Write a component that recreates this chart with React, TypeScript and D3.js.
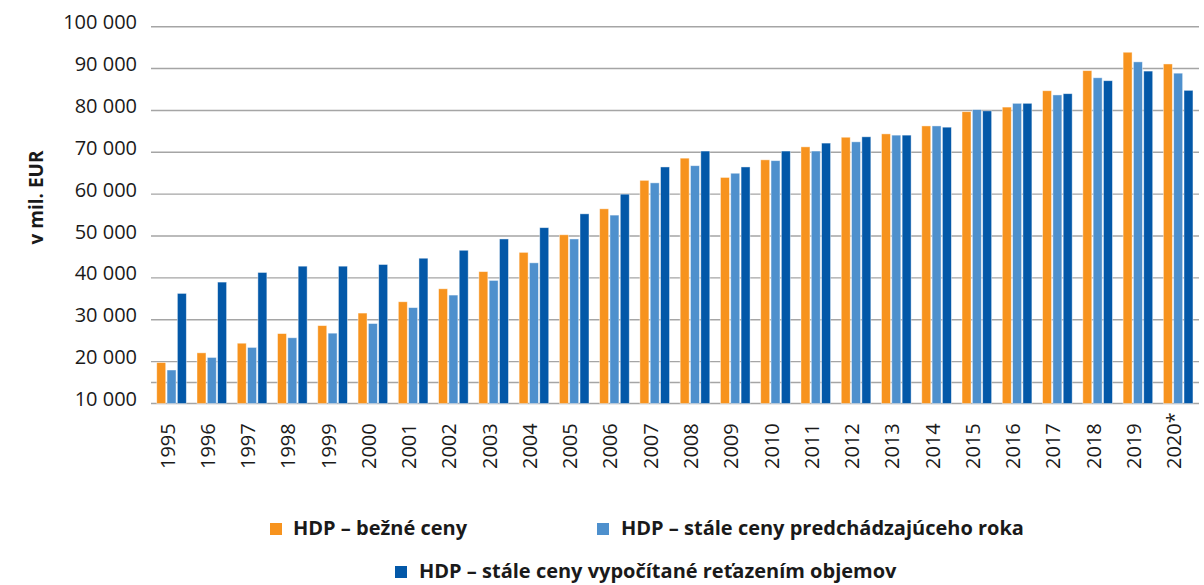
import React from "react";
import * as d3 from "d3";

const years = ["1995","1996","1997","1998","1999","2000","2001","2002","2003","2004","2005","2006","2007","2008","2009","2010","2011","2012","2013","2014","2015","2016","2017","2018","2019","2020*"];
const bezneCeny = [19800,22100,24400,26700,28600,31600,34300,37400,41500,46100,50300,56500,63300,68600,64000,68200,71300,73600,74400,76300,79700,80800,84700,89500,93900,91100];
const staleCenyPredRoka = [18000,21000,23400,25700,26800,29100,32900,35900,39400,43600,49300,55000,62700,66800,65000,68000,70300,72500,74100,76300,80200,81700,83700,87800,91600,88900];
const staleCenyRetazenim = [36300,39000,41300,42800,42800,43200,44700,46600,49300,52000,55300,60000,66500,70300,66500,70300,72200,73700,74100,76000,79900,81700,84000,87100,89400,84800];
const seriesNames = ["HDP – bežné ceny","HDP – stále ceny predchádzajúceho roka","HDP – stále ceny vypočítané reťazením objemov"];
const seriesColors = ["#F7931E","#4E90CD","#0358A8"];
const yTicks = [10000,20000,30000,40000,50000,60000,70000,80000,90000,100000];
const extraGrid = [15000];

export default function App() {
  const W = 1204, H = 585;
  const x = d3.scaleBand<string>().domain(years).range([151.4, 1198.3]).padding(0);
  const y = d3.scaleLinear().domain([10000, 100000]).range([403.5, 26.7]);
  const sub = d3.scaleBand<number>().domain([0,1,2]).range([-14.8, 14.8]).paddingInner(0.13);
  const fmt = d3.formatLocale({ decimal: ",", thousands: " ", grouping: [3], currency: ["", "€"] }).format(",d");
  const data = [bezneCeny, staleCenyPredRoka, staleCenyRetazenim];
  const font = "'Open Sans', Lato, sans-serif";
  const legend = [
    { i: 0, mx: 270, tx: 293, by: 535 },
    { i: 1, mx: 597, tx: 621, by: 535 },
    { i: 2, mx: 395, tx: 419, by: 578 },
  ];
  return (
    <svg width={W} height={H} style={{ position: "absolute", left: 0, top: 0, background: "#fff" }} fontFamily={font}>
      {[...yTicks, ...extraGrid].map((t) => (
        <line key={"g" + t} x1={151} x2={1199} y1={y(t)} y2={y(t)} stroke="#A5A5A5" strokeWidth={1.4} />
      ))}
      {yTicks.map((t) => (
        <text key={"t" + t} x={137} y={y(t) + 2.5} textAnchor="end" fontSize={20} fill="#1a1a1a">{fmt(t)}</text>
      ))}
      <text transform={`translate(43,197.5) rotate(-90)`} textAnchor="middle" fontSize={19} fontWeight={700} fill="#1a1a1a">v mil. EUR</text>
      {years.map((yr, j) => {
        const cx = (x(yr) as number) + x.bandwidth() / 2;
        return (
          <g key={yr}>
            {data.map((s, i) => (
              <rect key={i} x={cx + (sub(i) as number)} width={sub.bandwidth()} y={y(s[j])} height={y(10000) - y(s[j])}
                fill={seriesColors[i]} stroke="#ffffff" strokeOpacity={0.55} strokeWidth={0.8} />
            ))}
            <text transform={`translate(${cx + 3},469) rotate(-90)`} textAnchor="start" fontSize={20} fill="#1a1a1a">{yr}</text>
          </g>
        );
      })}
      {legend.map((l) => (
        <g key={l.i}>
          <rect x={l.mx} y={l.by - 12} width={12} height={12} fill={seriesColors[l.i]} />
          <text x={l.tx} y={l.by} fontSize={20} fontWeight={700} fill="#1a1a1a">{seriesNames[l.i]}</text>
        </g>
      ))}
    </svg>
  );
}
